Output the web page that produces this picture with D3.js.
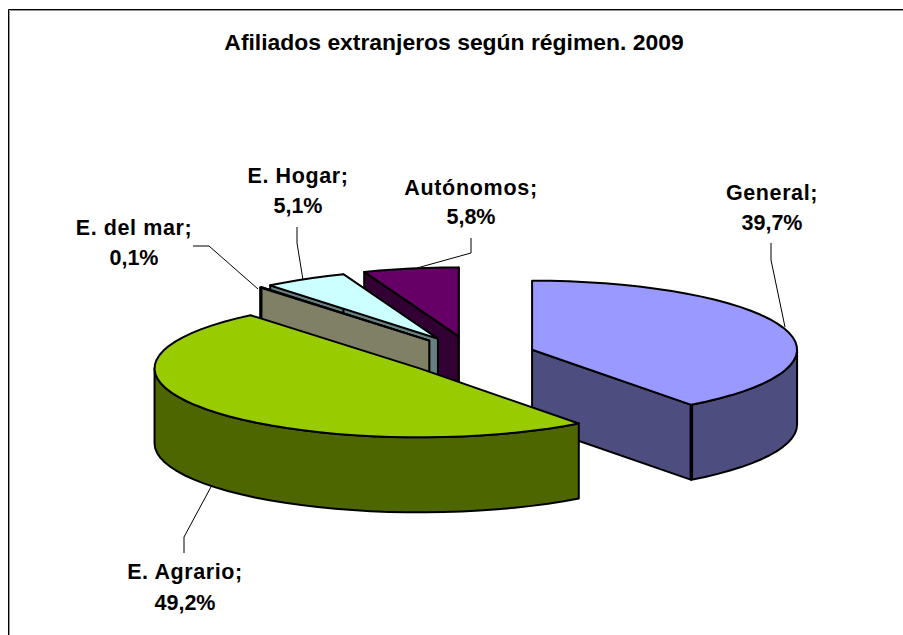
<!DOCTYPE html>
<html><head><meta charset="utf-8">
<script src="https://cdnjs.cloudflare.com/ajax/libs/d3/7.8.5/d3.min.js"></script>
<style>html,body{margin:0;padding:0;background:#fff}svg{display:block}text{font-family:"Liberation Sans",Arial,sans-serif;font-weight:bold;fill:#000}</style>
</head><body><svg id="c" width="903" height="635"></svg>
<script>
const chartTitle = "Afiliados extranjeros según régimen. 2009";
const categories = ["General","E. Agrario","E. del mar","E. Hogar","Autónomos"];
const values = [39.7,49.2,0.1,5.1,5.8];
const valueLabels = ["39,7%","49,2%","0,1%","5,1%","5,8%"];
const topColors = ["#9999ff","#99cc00","#ffffcc","#ccffff","#660066"];
const sideColors = ["#4d4d80","#4d6600","#808066","#668080","#330033"];

const rx=265, ry=69, depth=75, explodeX=0.245, explodeY=0.289, cx=470.5, cy=356;
const x=d3.scaleLinear().domain([-1,1]).range([cx-rx,cx+rx]);
const y=d3.scaleLinear().domain([-1,1]).range([cy-ry,cy+ry]);
const TAU=2*Math.PI;
const pie=d3.pie().sort(null).value(d=>d).startAngle(0).endAngle(TAU);
const arcs=pie(values);
const svg=d3.select("#c");

// chart frame: only top and left edges show
const frame=[["#000",8.5,9.5],["#999",9.5,10.5]];
frame.forEach(([col,fx,fy])=>{
  svg.append("path").attr("d",d3.line()([[fx,635],[fx,fy],[903,fy]])).attr("fill","none").attr("stroke",col).attr("stroke-width",1);
});

const line=d3.line();
function apex(a){const m=(a.startAngle+a.endAngle)/2;return [Math.sin(m)*explodeX,-Math.cos(m)*explodeY];}
function rim(a,from,to,dz){const o=apex(a);const n=Math.max(1,Math.ceil((to-from)/0.07));
  return d3.range(n+1).map(i=>{const t=from+(to-from)*i/n;return [x(o[0]+Math.sin(t)),y(o[1]-Math.cos(t))+dz];});}
function ctr(a,dz){const o=apex(a);return [x(o[0]),y(o[1])+dz];}
function clampRange(a,lo,hi){return [Math.max(a.startAngle,lo),Math.min(a.endAngle,hi)];}
function poly(g,pts,fill,sw){g.append("path").attr("d",line(pts)+"Z").attr("fill",fill).attr("stroke","#000").attr("stroke-width",sw||2).attr("stroke-linejoin","round");}

// paint order: back to front
[4,3,2,0,1].forEach(i=>{
  const a=arcs[i],g=svg.append("g");
  const c0=ctr(a,0),c1=ctr(a,depth);
  const sp=rim(a,a.startAngle,a.startAngle,0)[0], ep=rim(a,a.endAngle,a.endAngle,0)[0];
  if(i===0){ // end face faces the viewer
    poly(g,[c0,ep,[ep[0],ep[1]+depth],c1],sideColors[i]);
  }
  if(i>=2){
    poly(g,[c0,sp,[sp[0],sp[1]+depth],c1],sideColors[i]);
    poly(g,[c0,ep,[ep[0],ep[1]+depth],c1],sideColors[i]);
  }
  // outer wall: visible for angles between 90deg and 270deg
  const [f,t]=clampRange(a,Math.PI/2,3*Math.PI/2);
  if(t>f){ const up=rim(a,f,t,0), dn=rim(a,f,t,depth).reverse(); poly(g,up.concat(dn),sideColors[i]); }
  if(i===0){ const e=rim(a,a.endAngle,a.endAngle,0)[0];
    g.append("path").attr("d",line([e,[e[0],e[1]+depth]])).attr("stroke","#000").attr("stroke-width",3.5); }
  // top
  poly(g,[c0].concat(rim(a,a.startAngle,a.endAngle,0)),topColors[i]);
});

// leaders
const leaders=[
 [[771,243],[771,260],[785,327]],
 [[184,553],[184,537],[212,485]],
 [[193,246],[209,246],[258,289]],
 [[297,227],[297,243],[303,280]],
 [[471,238],[471,253],[417,268]]
];
leaders.forEach(p=>svg.append("path").attr("d",line(p)).attr("fill","none").attr("stroke","#000").attr("stroke-width",1));

// labels: [centre x, first baseline, second baseline, name letter spacing]
const labelPos=[[772,200,230,0.6],[185,579,610,0.6],[134,235,265,0.6],[298,183,213,0.6],[471,195,224,0.7]];
categories.forEach((c,i)=>{
  const p=labelPos[i];
  svg.append("text").attr("x",p[0]).attr("y",p[1]).attr("text-anchor","middle").attr("font-size",21.5).attr("letter-spacing",p[3]).text(c+";");
  svg.append("text").attr("x",p[0]).attr("y",p[2]).attr("text-anchor","middle").attr("font-size",21.5).text(valueLabels[i]);
});
svg.append("text").attr("x",454).attr("y",49.5).attr("text-anchor","middle").attr("font-size",22.9).text(chartTitle);
</script></body></html>
